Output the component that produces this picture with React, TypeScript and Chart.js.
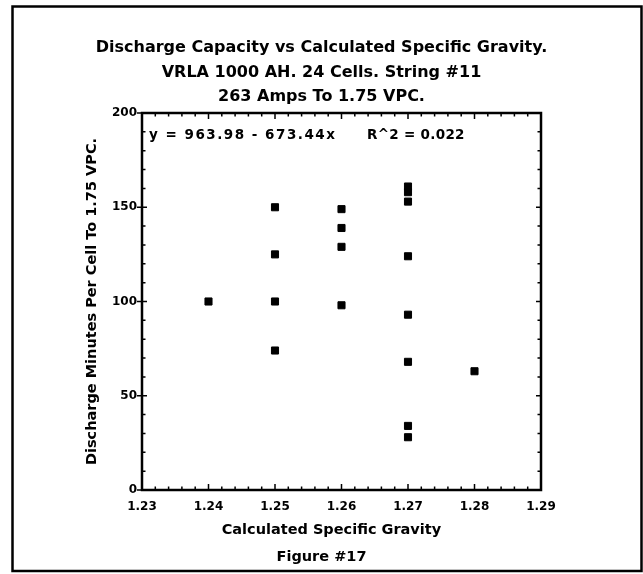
import React, { useEffect, useRef } from "react";
import { Chart, registerables } from "chart.js";

Chart.register(...registerables);

const FONT = '"DejaVu Sans", "Liberation Sans", sans-serif';

const titleLines = [
  "Discharge Capacity vs Calculated Specific Gravity.",
  "VRLA 1000 AH. 24 Cells. String #11",
  "263 Amps To 1.75 VPC.",
];
const xAxisTitle = "Calculated Specific Gravity";
const yAxisTitle = "Discharge Minutes Per Cell To 1.75 VPC.";
const figureLabel = "Figure #17";
const equationText = "y = 963.98 - 673.44x";
const rSquaredText = "R^2 = 0.022";

const xTickValues = [1.23, 1.24, 1.25, 1.26, 1.27, 1.28, 1.29];
const yTickValues = [0, 50, 100, 150, 200];

const specificGravity = [
  1.24,
  1.25, 1.25, 1.25, 1.25,
  1.26, 1.26, 1.26, 1.26,
  1.27, 1.27, 1.27, 1.27, 1.27, 1.27, 1.27, 1.27,
  1.28,
];
const dischargeMinutes = [
  100,
  150, 125, 100, 74,
  149, 139, 129, 98,
  161, 158, 153, 124, 93, 68, 34, 28,
  63,
];

const framePlugin = {
  id: "frameTicks",
  afterDraw(chart: any) {
    const { ctx, chartArea, scales } = chart;
    const { left, right, top, bottom } = chartArea;
    const xs = scales.x;
    const ys = scales.y;
    ctx.save();
    ctx.strokeStyle = "#000";
    ctx.fillStyle = "#000";
    // outer figure border
    ctx.lineWidth = 2.5;
    ctx.strokeRect(12.5, 6.5, 629, 564.5);
    // plot frame
    ctx.lineWidth = 2.5;
    ctx.strokeRect(left, top, right - left, bottom - top);
    // x minor/major ticks (inward, top and bottom)
    ctx.lineWidth = 1.5;
    const xMin = xTickValues[0];
    const xMax = xTickValues[xTickValues.length - 1];
    const xSteps = Math.round((xMax - xMin) / 0.002);
    for (let i = 0; i <= xSteps; i++) {
      const px = xs.getPixelForValue(xMin + i * 0.002);
      const major = i % 5 === 0;
      const len = major ? 6 : 3.5;
      ctx.beginPath();
      ctx.moveTo(px, bottom);
      ctx.lineTo(px, bottom - len);
      ctx.moveTo(px, top);
      ctx.lineTo(px, top + len);
      ctx.stroke();
    }
    // y ticks
    for (let v = 0; v <= 200; v += 10) {
      const py = ys.getPixelForValue(v);
      const major = v % 50 === 0;
      ctx.beginPath();
      ctx.moveTo(left - (major ? 5 : 0), py);
      ctx.lineTo(left + (major ? 5 : 3.5), py);
      ctx.moveTo(right, py);
      ctx.lineTo(right - (major ? 5 : 3.5), py);
      ctx.stroke();
    }
    // regression text
    ctx.font = `bold 13.5px ${FONT}`;
    ctx.textBaseline = "middle";
    ctx.textAlign = "left";
    (ctx as any).letterSpacing = "1.5px";
    ctx.fillText(equationText, left + 7, top + 22);
    (ctx as any).letterSpacing = "0.3px";
    ctx.fillText(rSquaredText, left + 225, top + 22);
    (ctx as any).letterSpacing = "0px";
    ctx.restore();
  },
};

export default function App() {
  const canvasRef = useRef<HTMLCanvasElement | null>(null);

  useEffect(() => {
    const canvas = canvasRef.current;
    if (!canvas) return;
    const tickFont = { family: FONT, size: 12, weight: "bold" as const };
    const axisTitleFont = { family: FONT, size: 14.5, weight: "bold" as const, lineHeight: 1.2 };
    const chart = new Chart(canvas, {
      type: "scatter",
      data: {
        datasets: [
          {
            data: specificGravity.map((x, i) => ({ x, y: dischargeMinutes[i] })),
            pointStyle: "rect",
            pointRadius: 5,
            pointBackgroundColor: "#000",
            pointBorderColor: "#000",
            pointBorderWidth: 1,
            showLine: false,
          },
        ],
      },
      options: {
        responsive: false,
        animation: false,
        events: [],
        layout: { padding: 0 },
        plugins: {
          legend: { display: false },
          tooltip: { enabled: false },
          title: {
            display: true,
            text: titleLines,
            color: "#000",
            font: { family: FONT, size: 16, weight: "bold", lineHeight: 1.53 },
            padding: { top: 35.76, bottom: 3.8 },
          },
          subtitle: {
            display: true,
            position: "bottom",
            text: figureLabel,
            color: "#000",
            font: axisTitleFont,
            padding: { top: 0, bottom: 8.3 },
          },
        },
        scales: {
          x: {
            type: "linear",
            min: xTickValues[0],
            max: xTickValues[xTickValues.length - 1],
            afterBuildTicks: (s: any) => {
              s.ticks = xTickValues.map((value) => ({ value }));
            },
            afterFit: (s: any) => {
              s.height = 58.3;
            },
            ticks: {
              callback: (v: any) => Number(v).toFixed(2),
              color: "#000",
              font: tickFont,
              padding: 10,
              autoSkip: false,
              maxRotation: 0,
            },
            grid: { display: false, drawTicks: false },
            border: { display: false },
            title: {
              display: true,
              text: xAxisTitle + "    ",
              color: "#000",
              font: axisTitleFont,
              padding: { top: 0, bottom: 9.6 },
            },
          },
          y: {
            type: "linear",
            position: "left",
            min: yTickValues[0],
            max: yTickValues[yTickValues.length - 1],
            afterBuildTicks: (s: any) => {
              s.ticks = yTickValues.map((value) => ({ value }));
            },
            afterFit: (s: any) => {
              s.width = 142;
            },
            ticks: {
              color: "#000",
              font: tickFont,
              padding: 5,
            },
            grid: { display: false, drawTicks: false },
            border: { display: false },
            title: {
              display: true,
              text: yAxisTitle,
              color: "#000",
              font: axisTitleFont,
              padding: { top: 83.3, bottom: 0 },
            },
          },
          yRight: {
            type: "linear",
            position: "right",
            display: true,
            min: yTickValues[0],
            max: yTickValues[yTickValues.length - 1],
            afterFit: (s: any) => {
              s.width = 102;
            },
            ticks: { display: false },
            grid: { display: false, drawTicks: false },
            border: { display: false },
          },
        },
      },
      plugins: [framePlugin],
    });
    return () => chart.destroy();
  }, []);

  return (
    <div style={{ position: "absolute", left: 0, top: 0, width: 643, height: 574, background: "#fff" }}>
      <canvas ref={canvasRef} width={643} height={574} style={{ display: "block" }} />
    </div>
  );
}
